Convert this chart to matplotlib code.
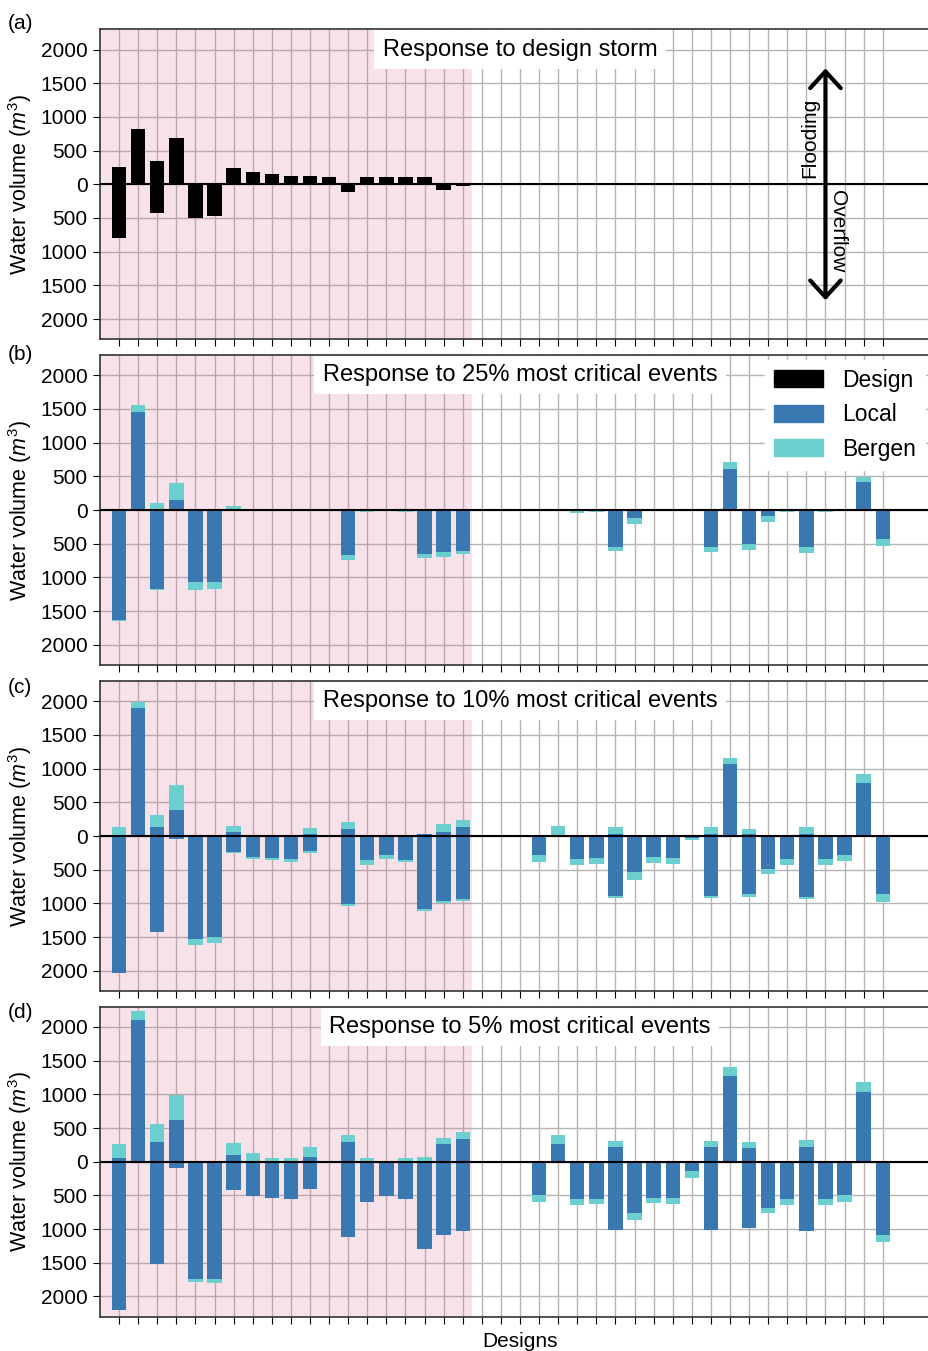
import numpy as np
import matplotlib
matplotlib.use("Agg")
import matplotlib.pyplot as plt
from matplotlib.patches import Patch
from matplotlib.ticker import FuncFormatter

plt.rcParams["font.family"] = ["Liberation Sans", "DejaVu Sans"]
plt.rcParams["mathtext.fontset"] = "custom"
plt.rcParams["mathtext.rm"] = "Liberation Sans"
plt.rcParams["mathtext.it"] = "Liberation Sans:italic"

designs = np.arange(41)

# design storm: flooding (up) and overflow (down), m3
design_flood = [257, 827, 342, 693, 0, 25, 243, 188, 153, 124, 119, 114, 0, 109, 109, 104, 104, 0, 0, 20,
                15, 8, 0, 0, 0, 0, 0, 0, 0, 0, 0, 0, 0, 0, 0, 0, 0, 0, 0, 0, 0]
design_overflow = [797, 0, 421, 0, 495, 465, 0, 0, 0, 0, 0, 0, 114, 0, 0, 0, 0, 79, 25, 0,
                   0, 0, 0, 0, 0, 0, 0, 0, 0, 0, 0, 0, 0, 0, 0, 0, 0, 0, 0, 0, 0]

# 25% most critical events
local_flood_25 = [0, 1455, 15, 153, 0, 0, 0, 0, 0, 0, 0, 0, 0, 0, 0, 0, 0, 0, 0, 0,
                  0, 0, 0, 0, 0, 0, 0, 0, 0, 0, 0, 0, 604, 0, 0, 0, 0, 0, 0, 416, 0]
local_overflow_25 = [1630, 0, 1175, 0, 1074, 1069, 0, 0, 0, 0, 0, 0, 673, 10, 0, 5, 649, 624, 614, 0,
                     0, 0, 0, 0, 10, 5, 545, 114, 5, 5, 0, 545, 0, 510, 89, 5, 554, 5, 0, 0, 436]
bergen_flood_25 = [0, 1564, 104, 396, 0, 0, 59, 0, 0, 0, 10, 0, 0, 0, 0, 0, 0, 0, 0, 0,
                   0, 0, 0, 0, 0, 0, 0, 0, 0, 0, 0, 0, 718, 0, 0, 0, 0, 0, 0, 490, 0]
bergen_overflow_25 = [1645, 0, 1180, 0, 1183, 1173, 0, 0, 0, 0, 0, 0, 743, 35, 0, 25, 708, 693, 653, 0,
                      0, 0, 0, 0, 40, 30, 614, 213, 20, 20, 0, 619, 0, 599, 178, 30, 634, 30, 0, 0, 540]

# 10% most critical events
local_flood_10 = [20, 1901, 134, 391, 0, 0, 59, 0, 0, 0, 30, 0, 99, 0, 0, 0, 25, 59, 129, 0,
                  0, 0, 0, 0, 0, 0, 35, 0, 0, 0, 0, 35, 1064, 25, 0, 0, 35, 0, 0, 792, 0]
local_overflow_10 = [2030, 0, 1431, 45, 1525, 1500, 243, 312, 327, 347, 228, 0, 1015, 361, 287, 351, 1079, 965, 931, 0,
                     0, 0, 287, 0, 347, 327, 896, 535, 312, 327, 25, 896, 0, 866, 495, 347, 906, 347, 277, 0, 866]
bergen_flood_10 = [134, 1990, 317, 757, 0, 0, 153, 0, 0, 0, 119, 0, 208, 0, 0, 0, 25, 173, 243, 0,
                   0, 0, 0, 149, 0, 0, 134, 0, 0, 0, 0, 134, 1158, 109, 0, 0, 129, 0, 0, 926, 0]
bergen_overflow_10 = [2030, 0, 1431, 45, 1614, 1584, 250, 342, 356, 391, 248, 0, 1035, 426, 342, 391, 1114, 995, 965, 0,
                      0, 0, 386, 0, 436, 411, 926, 649, 401, 411, 54, 926, 0, 906, 559, 436, 931, 436, 371, 0, 980]

# 5% most critical events
local_flood_5 = [50, 2104, 292, 619, 0, 0, 94, 10, 0, 0, 74, 0, 297, 0, 0, 0, 0, 257, 332, 0,
                 0, 0, 0, 261, 0, 0, 217, 0, 0, 0, 0, 217, 1276, 202, 0, 0, 222, 0, 0, 1039, 0]
local_overflow_5 = [2203, 0, 1520, 99, 1738, 1748, 421, 515, 535, 559, 401, 0, 1119, 599, 510, 550, 1302, 1084, 1025, 0,
                    0, 0, 498, 0, 557, 547, 1015, 754, 532, 537, 138, 1015, 0, 990, 685, 557, 1030, 557, 498, 0, 1089]
bergen_flood_5 = [267, 2238, 554, 990, 0, 0, 272, 129, 54, 50, 213, 0, 396, 50, 0, 59, 74, 351, 441, 0,
                  0, 0, 0, 394, 0, 0, 310, 0, 0, 0, 0, 310, 1399, 291, 0, 0, 315, 0, 0, 1177, 0]
bergen_overflow_5 = [2203, 0, 1520, 99, 1792, 1807, 421, 515, 535, 559, 401, 0, 1119, 599, 510, 550, 1302, 1084, 1025, 0,
                     0, 0, 596, 0, 636, 626, 1015, 867, 611, 621, 241, 1015, 0, 990, 768, 645, 1030, 636, 596, 0, 1187]

titles = ["Response to design storm",
          "Response to 25% most critical events",
          "Response to 10% most critical events",
          "Response to 5% most critical events"]
panel_labels = ["(a)", "(b)", "(c)", "(d)"]

local_color = "#3a78b2"
bergen_color = "#6ccfcf"
bar_w = 0.75


def draw_pair(ax, flood, overflow, color):
    flood = np.array(flood)
    overflow = np.array(overflow)
    ax.bar(designs, flood + overflow, bottom=-overflow, width=bar_w, color=color, zorder=2)


W, H = 928.0, 1351.0
# the tiny extra keeps the canvas at a full 928 x 1351 pixels
fig, axes = plt.subplots(4, 1, sharex=True, figsize=(9.2801, 13.5101), dpi=100)

# panels run past the right edge of the figure
panel_tops = [29.3, 355, 681, 1006.7]
for ax, top in zip(axes, panel_tops):
    ax.set_position([100 / W, 1 - (top + 310) / H, 840 / W, 310 / H])

for ax, title in zip(axes, titles):
    ax.set_xlim(-1, 43)
    ax.set_ylim(-2300, 2300)
    ax.set_yticks(np.arange(-2000, 2001, 500))
    ax.yaxis.set_major_formatter(FuncFormatter(lambda v, p: "%d" % abs(v)))
    ax.set_xticks(designs)
    ax.set_xticklabels([])
    ax.set_axisbelow(True)
    ax.grid(True, color="#b4b4b4", lw=1)
    ax.axvspan(-1, 18.5, color="palevioletred", alpha=0.2, lw=0, zorder=1)
    ax.axhline(0, color="k", lw=1.5, zorder=3)
    ax.tick_params(axis="both", labelsize=15, length=5, pad=4)
    for s in ax.spines.values():
        s.set_color("#333333")
        s.set_linewidth(1.2)
    ax.spines["right"].set_visible(False)
    ax.set_ylabel("Water volume ($m^3$)", fontsize=15.5, labelpad=5)
    ax.text(0.5, 2000, title, transform=ax.get_yaxis_transform(), ha="center", va="center",
            fontsize=17, zorder=5,
            bbox=dict(boxstyle="square,pad=0.35", fc="white", ec="none"))

draw_pair(axes[0], design_flood, design_overflow, "black")
draw_pair(axes[1], bergen_flood_25, bergen_overflow_25, bergen_color)
draw_pair(axes[1], local_flood_25, local_overflow_25, local_color)
draw_pair(axes[2], bergen_flood_10, bergen_overflow_10, bergen_color)
draw_pair(axes[2], local_flood_10, local_overflow_10, local_color)
draw_pair(axes[3], bergen_flood_5, bergen_overflow_5, bergen_color)
draw_pair(axes[3], local_flood_5, local_overflow_5, local_color)

# flooding / overflow arrow
axes[0].annotate("", xy=(37, 1720), xytext=(37, -1720),
                 arrowprops=dict(arrowstyle="<->,head_length=0.6,head_width=0.55", lw=3,
                                 color="k", mutation_scale=20, shrinkA=0, shrinkB=0), zorder=6)
axes[0].text(36.65, 100, "Flooding", rotation=90, ha="right", va="bottom", fontsize=15, zorder=6)
axes[0].text(37.15, -80, "Overflow", rotation=270, ha="left", va="top", fontsize=15, zorder=6)

handles = [Patch(color="black", label="Design"),
           Patch(color=local_color, label="Local"),
           Patch(color=bergen_color, label="Bergen")]
leg = axes[1].legend(handles=handles, loc="upper left", bbox_to_anchor=(0.7917, 0.985),
                     fontsize=16.5, handlelength=2.15, handleheight=0.75, labelspacing=0.5,
                     framealpha=1, edgecolor="white", fancybox=False, borderaxespad=0)
leg.set_zorder(7)

axes[3].set_xlabel("Designs", fontsize=15, labelpad=2)

label_y = [23.5, 354, 687, 1012]
for lab, y in zip(panel_labels, label_y):
    fig.text(8 / W, 1 - y / H, lab, fontsize=15, va="center", ha="left")

plt.savefig("out.png", dpi=100)
